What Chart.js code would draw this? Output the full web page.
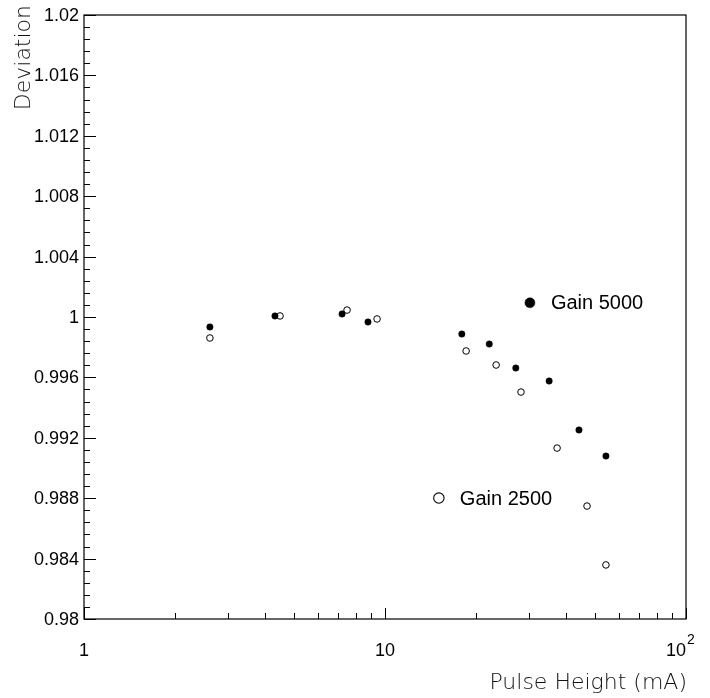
<!DOCTYPE html>
<html>
<head>
<meta charset="utf-8">
<script src="https://cdn.jsdelivr.net/npm/chart.js@4.4.1/dist/chart.umd.min.js"></script>
<style>
  html, body { margin: 0; padding: 0; background: #fff; }
  #c { display: block; }
</style>
</head>
<body>
<canvas id="c" width="710" height="698"></canvas>
<script>
// ------------------------------------------------------------------
// Data
// ------------------------------------------------------------------
const pulseGain5000 = [2.62, 4.31, 7.20, 8.78, 18.0, 22.2, 27.2, 35.1, 44.1, 54.2];
const devGain5000   = [0.99934, 1.00007, 1.0002, 0.99967, 0.99887, 0.99821, 0.99662, 0.99576, 0.99252, 0.99079];

const pulseGain2500 = [2.62, 4.48, 7.48, 9.41, 18.6, 23.4, 28.3, 37.3, 46.9, 54.2];
const devGain2500   = [0.99861, 1.00007, 1.00046, 0.99987, 0.99775, 0.99682, 0.99503, 0.99132, 0.98748, 0.98358];

const seriesNames = ["Gain 5000", "Gain 2500"];
// legend marker anchors, in data units (x, y)
const legendX = [30.3, 15.1];
const legendY = [1.00094, 0.98801];

const yTickValues = [0.98, 0.984, 0.988, 0.992, 0.996, 1, 1.004, 1.008, 1.012, 1.016, 1.02];
const yTickLabels = ["0.98", "0.984", "0.988", "0.992", "0.996", "1", "1.004", "1.008", "1.012", "1.016", "1.02"];
const xTickValues = [1, 10, 100];

const FONT = "'Liberation Sans', Helvetica, Arial, sans-serif";
const TITLE_FONT = "'DejaVu Sans', sans-serif";

function pts(xs, ys) { return xs.map((x, i) => ({ x: x, y: ys[i] })); }

// ------------------------------------------------------------------
// ROOT-like frame, inside ticks, labels and in-plot legend
// ------------------------------------------------------------------
const rootFrame = {
  id: "rootFrame",
  afterDatasetsDraw(chart) {
    const ctx = chart.ctx;
    const a = chart.chartArea;
    const xs = chart.scales.x, ys = chart.scales.y;

    ctx.save();
    ctx.strokeStyle = "#000";
    ctx.lineWidth = 1.2;
    ctx.strokeRect(a.left, a.top, a.right - a.left, a.bottom - a.top);

    ctx.lineWidth = 1;
    ctx.beginPath();
    // y ticks: majors each 0.004, 5 subdivisions
    for (let i = 0; i <= 50; i++) {
      const v = 0.98 + i * 0.0008;
      const py = Math.round(ys.getPixelForValue(v)) + 0.5;
      const len = i % 5 === 0 ? 12 : 6;
      ctx.moveTo(a.left, py);
      ctx.lineTo(a.left + len, py);
    }
    // x ticks: log decades with minor ticks
    for (let d = 1; d <= 10; d *= 10) {
      for (let m = 1; m <= 9; m++) {
        const v = d * m;
        const px = Math.round(xs.getPixelForValue(v)) + 0.5;
        const len = m === 1 ? 11 : 6;
        ctx.moveTo(px, a.bottom);
        ctx.lineTo(px, a.bottom - len);
      }
    }
    const p100 = Math.round(xs.getPixelForValue(100)) + 0.5;
    ctx.moveTo(p100, a.bottom);
    ctx.lineTo(p100, a.bottom - 11);
    ctx.stroke();

    // y tick labels
    ctx.fillStyle = "#000";
    ctx.font = "18px " + FONT;
    ctx.textAlign = "right";
    ctx.textBaseline = "middle";
    yTickValues.forEach((v, i) => {
      ctx.fillText(yTickLabels[i], a.left - 5, ys.getPixelForValue(v) + 1);
    });

    // x tick labels
    ctx.textAlign = "center";
    const ly = a.bottom + 32;
    ctx.fillText("1", xs.getPixelForValue(xTickValues[0]), ly);
    ctx.fillText("10", xs.getPixelForValue(xTickValues[1]), ly);
    const p2 = xs.getPixelForValue(xTickValues[2]);
    ctx.textAlign = "right";
    ctx.fillText("10", p2, ly);
    ctx.textAlign = "left";
    ctx.font = "14px " + FONT;
    ctx.fillText("2", p2 + 1, ly - 11);

    // axis titles (thin, wide font)
    ctx.fillStyle = "#111";
    ctx.font = "300 22px " + TITLE_FONT;
    ctx.textAlign = "right";
    ctx.textBaseline = "alphabetic";
    ctx.fillText("Pulse Height (mA)", a.right + 1, a.bottom + 70);
    ctx.save();
    ctx.translate(30, a.top - 10);
    ctx.rotate(-Math.PI / 2);
    ctx.fillText("Deviation", 0, 0);
    ctx.restore();

    // legend labels next to the markers
    ctx.fillStyle = "#000";
    ctx.font = "20px " + FONT;
    ctx.textAlign = "left";
    ctx.textBaseline = "middle";
    seriesNames.forEach((name, i) => {
      ctx.fillText(name, xs.getPixelForValue(legendX[i]) + 21, ys.getPixelForValue(legendY[i]) + 1);
    });
    ctx.restore();
  }
};

new Chart(document.getElementById("c").getContext("2d"), {
  type: "scatter",
  data: {
    datasets: [
      {
        label: seriesNames[0],
        data: pts(pulseGain5000, devGain5000),
        pointRadius: 3.2,
        pointBackgroundColor: "#000",
        pointBorderColor: "#000",
        pointBorderWidth: 0.5
      },
      {
        label: seriesNames[1],
        data: pts(pulseGain2500, devGain2500),
        pointRadius: 3.3,
        pointBackgroundColor: "#fff",
        pointBorderColor: "#000",
        pointBorderWidth: 1
      },
      {
        label: "legend " + seriesNames[0],
        data: [{ x: legendX[0], y: legendY[0] }],
        pointRadius: 5,
        pointBackgroundColor: "#000",
        pointBorderColor: "#000",
        pointBorderWidth: 0.5
      },
      {
        label: "legend " + seriesNames[1],
        data: [{ x: legendX[1], y: legendY[1] }],
        pointRadius: 5.2,
        pointBackgroundColor: "#fff",
        pointBorderColor: "#000",
        pointBorderWidth: 1.1
      }
    ]
  },
  options: {
    responsive: false,
    maintainAspectRatio: false,
    animation: false,
    layout: { padding: { left: 84, top: 15, right: 24, bottom: 79 } },
    plugins: {
      legend: { display: false },
      tooltip: { enabled: false }
    },
    scales: {
      x: { type: "logarithmic", min: 1, max: 100, display: false },
      y: { type: "linear", min: 0.98, max: 1.02, display: false }
    }
  },
  plugins: [rootFrame]
});
</script>
</body>
</html>
